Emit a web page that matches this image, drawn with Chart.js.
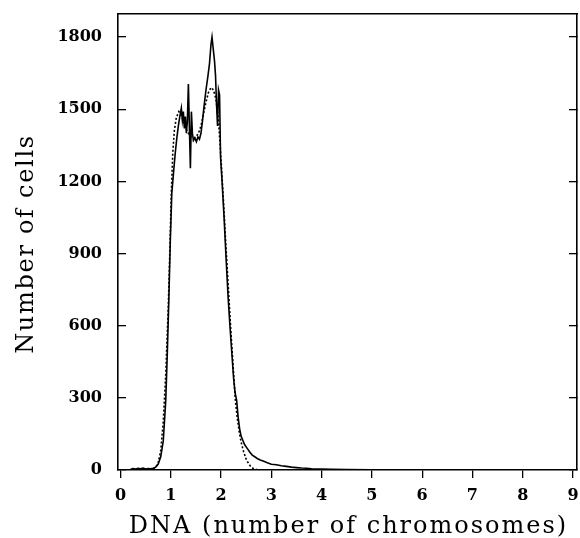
<!DOCTYPE html>
<html>
<head>
<meta charset="utf-8">
<script src="https://cdn.jsdelivr.net/npm/chart.js@4"></script>
<style>
  html, body { margin: 0; padding: 0; background: #fff; }
</style>
</head>
<body>
<canvas id="myChart" width="580" height="538"></canvas>
<script>
// DNA content (chromosomes) and cell counts
const observedDna = [0.20, 0.25, 0.30, 0.35, 0.40, 0.45, 0.50, 0.55, 0.60, 0.65, 0.70, 0.75, 0.80, 0.85, 0.90,
  0.93, 0.96, 0.99, 1.02, 1.06, 1.09, 1.12, 1.15, 1.18, 1.21, 1.23, 1.25, 1.27, 1.29, 1.31, 1.33, 1.35, 1.37,
  1.39, 1.41, 1.43, 1.45, 1.48, 1.51, 1.54, 1.57, 1.60, 1.63, 1.66, 1.70, 1.74, 1.77, 1.80, 1.82, 1.84, 1.87,
  1.89, 1.91, 1.93, 1.95, 1.97, 1.99, 2.02, 2.06, 2.10, 2.14, 2.18, 2.22, 2.25, 2.28, 2.31, 2.34, 2.37, 2.40,
  2.43, 2.47, 2.52, 2.57, 2.62, 2.67, 2.72, 2.78, 2.85, 2.92, 3.00, 3.10, 3.20, 3.30, 3.40, 3.50, 3.60, 3.70,
  3.80, 3.90, 4.00, 4.20, 4.50, 5.00, 6.00, 7.00, 8.00, 9.00];
const observedCells = [3, 6, 4, 7, 5, 8, 4, 6, 5, 7, 12, 25, 55, 120, 290,
  480, 700, 950, 1150, 1250, 1320, 1380, 1430, 1470, 1505, 1455, 1490, 1420, 1470, 1400, 1450, 1605, 1425,
  1255, 1490, 1400, 1370, 1380, 1365, 1385, 1375, 1400, 1450, 1510, 1580, 1640, 1690, 1770, 1800, 1760, 1700,
  1640, 1520, 1430, 1580, 1560, 1300, 1200, 1050, 880, 720, 590, 470, 380, 320, 290, 220, 170, 140,
  125, 105, 90, 75, 62, 55, 48, 42, 36, 30, 24, 22, 18, 15, 12, 10, 8, 7,
  5, 4, 4, 3, 2, 1, 1, 0, 0, 0];

const fittedDna = [0.65, 0.70, 0.75, 0.80, 0.85, 0.90, 0.95, 0.98, 1.01, 1.04, 1.07, 1.11, 1.16, 1.20, 1.25,
  1.30, 1.35, 1.40, 1.45, 1.50, 1.55, 1.60, 1.65, 1.70, 1.75, 1.80, 1.85, 1.90, 1.95, 2.00, 2.05, 2.10,
  2.15, 2.20, 2.25, 2.28, 2.32, 2.36, 2.40, 2.45, 2.50, 2.55, 2.60, 2.65, 2.72, 2.80];
const fittedCells = [3, 10, 30, 80, 200, 400, 680, 900, 1150, 1320, 1410, 1465, 1490, 1480, 1450,
  1420, 1400, 1385, 1380, 1385, 1400, 1430, 1480, 1530, 1570, 1590, 1580, 1540, 1450, 1290, 1110, 920,
  740, 560, 400, 300, 220, 160, 115, 75, 45, 25, 12, 5, 1, 0];

const yTicks = [0, 300, 600, 900, 1200, 1500, 1800];
const xTicks = [0, 1, 2, 3, 4, 5, 6, 7, 8, 9];
const xTitle = 'DNA (number of chromosomes)';
const yTitle = 'Number of cells';

const toPoints = (xs, ys) => xs.map((x, i) => ({ x, y: ys[i] }));

const tickFont = { family: '"DejaVu Serif"', size: 16, weight: 'bold' };

// no auto padding around the plot, the frame must sit at fixed pixels
function noPad(scale) {
  scale.paddingTop = 0;
  scale.paddingBottom = 0;
  scale.paddingLeft = 0;
  scale.paddingRight = 0;
}

// axis titles drawn by hand so they can get the wide letter spacing of the original
const axisTitles = {
  id: 'axisTitles',
  afterDraw(chart) {
    const { ctx, chartArea } = chart;
    ctx.save();
    ctx.fillStyle = '#000';
    ctx.font = '24px "DejaVu Serif"';
    ctx.textAlign = 'center';
    ctx.textBaseline = 'alphabetic';
    ctx.letterSpacing = '2px';
    ctx.fillText(xTitle, (chartArea.left + chartArea.right) / 2 + 1, 533);
    ctx.letterSpacing = '1.7px';
    ctx.translate(33, 244);
    ctx.rotate(-Math.PI / 2);
    ctx.fillText(yTitle, 0, 0);
    ctx.restore();
  }
};

const ctx = document.getElementById('myChart').getContext('2d');

new Chart(ctx, {
  type: 'line',
  data: {
    datasets: [
      {
        label: 'Observed',
        data: toPoints(observedDna, observedCells),
        borderColor: '#000',
        borderWidth: 1.6,
        pointRadius: 0,
        tension: 0,
      },
      {
        label: 'Fitted',
        data: toPoints(fittedDna, fittedCells),
        borderColor: '#000',
        borderWidth: 1.6,
        borderDash: [2, 2],
        pointRadius: 0,
        tension: 0,
      },
    ],
  },
  options: {
    responsive: false,
    animation: false,
    layout: { padding: { top: 14, right: 3, left: 0, bottom: 0 } },
    plugins: {
      legend: { display: false },
      tooltip: { enabled: false },
    },
    scales: {
      x: {
        type: 'linear',
        position: 'bottom',
        min: -0.05,
        max: 9.08,
        afterBuildTicks: (scale) => { scale.ticks = xTicks.map((v) => ({ value: v })); },
        afterFit: (scale) => { scale.height = 68; noPad(scale); },
        grid: { display: true, drawOnChartArea: false, tickLength: 8, color: '#000', lineWidth: 1.3 },
        border: { display: true, color: '#000', width: 1.6 },
        ticks: { color: '#000', font: tickFont, padding: 8, maxRotation: 0, callback: (v) => String(v) },
      },
      xTop: {
        type: 'linear',
        position: 'top',
        min: -0.05,
        max: 9.08,
        afterFit: (scale) => { scale.height = 0; noPad(scale); },
        grid: { display: false },
        border: { display: true, color: '#000', width: 1.6 },
        ticks: { display: false },
      },
      y: {
        type: 'linear',
        position: 'left',
        min: 0,
        max: 1896,
        afterBuildTicks: (scale) => { scale.ticks = yTicks.map((v) => ({ value: v })); },
        afterFit: (scale) => { scale.width = 118; noPad(scale); },
        grid: { display: true, drawOnChartArea: false, tickLength: -8, color: '#000', lineWidth: 1.3 },
        border: { display: true, color: '#000', width: 1.6 },
        ticks: { color: '#000', font: tickFont, padding: 24, callback: (v) => String(v) },
      },
      yRight: {
        type: 'linear',
        position: 'right',
        min: 0,
        max: 1896,
        afterBuildTicks: (scale) => { scale.ticks = yTicks.map((v) => ({ value: v })); },
        afterFit: (scale) => { scale.width = 0; noPad(scale); },
        grid: { display: true, drawOnChartArea: false, tickLength: -8, color: '#000', lineWidth: 1.3 },
        border: { display: true, color: '#000', width: 1.6 },
        ticks: { display: false },
      },
    },
  },
  plugins: [axisTitles],
});
</script>
</body>
</html>
